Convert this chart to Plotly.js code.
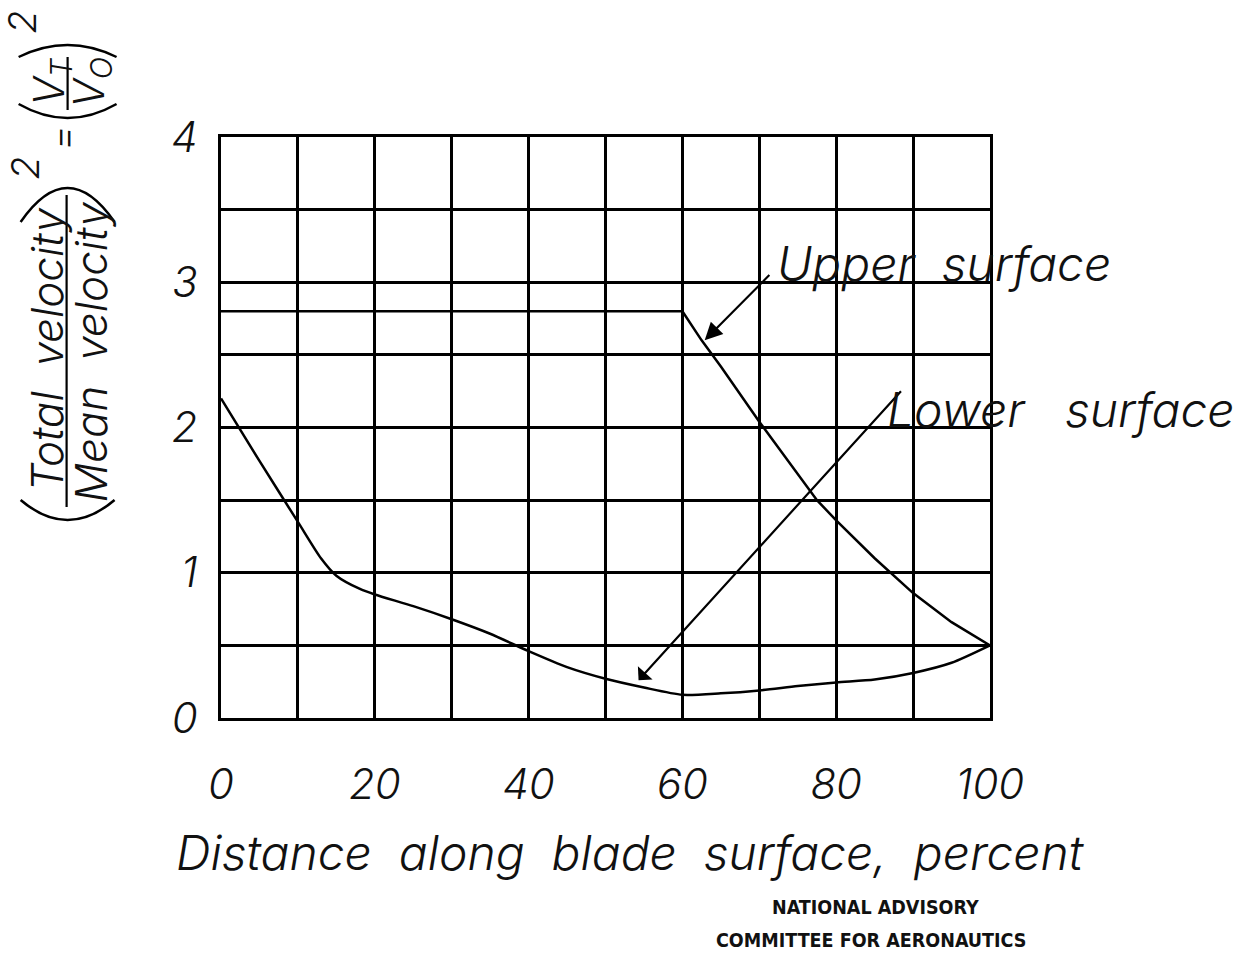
<!DOCTYPE html>
<html>
<head>
<meta charset="utf-8">
<script src="https://cdn.plot.ly/plotly-3.0.1.min.js"></script>
<style>html,body{margin:0;padding:0;background:#fff;}#chart{width:1243px;height:953px;}</style>
</head>
<body>
<div id="chart"></div>
<script>
// ---- data ----
const upperX = [0, 60, 62.5, 65, 70, 75, 77.5, 80, 85, 90, 95, 100];
const upperY = [2.8, 2.8, 2.6, 2.42, 2.04, 1.68, 1.5, 1.36, 1.1, 0.86, 0.66, 0.5];
const lowerX = [0, 5, 10, 13, 15, 18, 20, 25, 30, 35, 40, 45, 50, 55, 60, 65, 70, 75, 80, 85, 90, 95, 100];
const lowerY = [2.2, 1.77, 1.35, 1.1, 0.98, 0.89, 0.85, 0.77, 0.68, 0.58, 0.46, 0.35, 0.27, 0.21, 0.16, 0.17, 0.19, 0.22, 0.245, 0.265, 0.31, 0.38, 0.5];
const xTickVals = [0, 10, 20, 30, 40, 50, 60, 70, 80, 90, 100];
const xTickText = ["0", "", "20", "", "40", "", "60", "", "80", "", "100"];
const yTickVals = [0, 0.5, 1, 1.5, 2, 2.5, 3, 3.5, 4];
const yTickText = ["0", "", "1", "", "2", "", "3", "", "4"];
const upperLabel = "Upper  surface";
const lowerLabel = "Lower   surface";
const xTitle = "Distance  along  blade  surface,  percent";
const numerText = "Total  velocity";
const denomText = "Mean  velocity";
const naca1 = "NATIONAL ADVISORY";
const naca2 = "COMMITTEE FOR AERONAUTICS";

// ---- geometry helpers (pixel -> paper) ----
const L = 220.5, R = 990, T = 137, B = 718;
const P = px => (px - L) / (R - L);
const Q = py => (B - py) / (B - T);

const hand = {family: "Inter, DejaVu Sans, sans-serif", color: "#111", style: "italic", weight: 300};
const f = (size, extra) => Object.assign({}, hand, {size: size}, extra || {});

const traces = [
  {x: upperX, y: upperY, type: "scatter", mode: "lines", line: {color: "#000", width: 2.5}, hoverinfo: "skip", showlegend: false},
  {x: lowerX, y: lowerY, type: "scatter", mode: "lines", line: {color: "#000", width: 2.5, shape: "spline", smoothing: 0.7}, hoverinfo: "skip", showlegend: false}
];

function rot(text, xpx, ypx, size) {
  return {text: text, xref: "paper", yref: "paper", x: P(xpx), y: Q(ypx), xanchor: "center", yanchor: "middle",
          textangle: -90, showarrow: false, font: f(size)};
}
// paren arc (rotated bracket) as a path in paper coordinates: ends at yEnd, apex at yApex
function arc(x0, x1, yEnd, yApex) {
  const yc = 2 * yApex - yEnd;
  const xm = (x0 + x1) / 2;
  return {type: "path", xref: "paper", yref: "paper",
          path: `M ${P(x0)},${Q(yEnd)} Q ${P(xm)},${Q(yc)} ${P(x1)},${Q(yEnd)}`,
          line: {color: "#000", width: 2.5}};
}

const annotations = [
  // arrows
  {x: 62.9, y: 2.6, ax: 71.5, ay: 3.06, xref: "x", yref: "y", axref: "x", ayref: "y", text: "", showarrow: true,
   arrowhead: 2, arrowsize: 1.6, arrowwidth: 2.2, arrowcolor: "#000"},
  {x: 54.3, y: 0.26, ax: 88.6, ay: 2.26, xref: "x", yref: "y", axref: "x", ayref: "y", text: "", showarrow: true,
   arrowhead: 1, arrowsize: 1.5, arrowwidth: 2.2, arrowcolor: "#000"},
  // labels
  {text: upperLabel, x: 72.1, y: 3.0, xref: "x", yref: "y", xanchor: "left", yanchor: "bottom", yshift: -13, showarrow: false, font: f(48)},
  {text: lowerLabel, x: 86.4, y: 2.0, xref: "x", yref: "y", xanchor: "left", yanchor: "bottom", yshift: -13, showarrow: false, font: f(48)},
  // x title
  {text: xTitle, xref: "paper", yref: "paper", x: P(630), y: Q(852), xanchor: "center", yanchor: "middle", showarrow: false, font: f(48)},
  // NACA
  {text: "<b>" + naca1 + "</b>", xref: "paper", yref: "paper", x: P(875), y: Q(907), xanchor: "center", yanchor: "middle", showarrow: false,
   font: {family: "DejaVu Sans Condensed, Liberation Sans Narrow, DejaVu Sans, sans-serif", size: 19.5, color: "#111"}},
  {text: "<b>" + naca2 + "</b>", xref: "paper", yref: "paper", x: P(871), y: Q(940), xanchor: "center", yanchor: "middle", showarrow: false,
   font: {family: "DejaVu Sans Condensed, Liberation Sans Narrow, DejaVu Sans, sans-serif", size: 19.5, color: "#111"}},
  // y title pieces (rotated)
  rot(numerText, 46, 350, 44),
  rot(denomText, 90, 352, 44),
  rot("2", 24, 168, 38),
  rot("=", 61, 138, 38),
  rot("V<sub>T</sub>", 50, 82, 42),
  rot("V<sub>O</sub>", 90, 82, 42),
  rot("2", 21, 22, 38)
];

const shapes = [
  {type: "line", xref: "paper", yref: "paper", x0: P(66), x1: P(66), y0: Q(507), y1: Q(195), line: {color: "#000", width: 2.2}},
  {type: "line", xref: "paper", yref: "paper", x0: P(67), x1: P(67), y0: Q(110), y1: Q(57), line: {color: "#000", width: 2.2}},
  arc(20, 114, 500, 520),
  arc(20, 114, 222, 188),
  arc(18, 116, 104, 118),
  arc(18, 116, 57, 45)
];

const layout = {
  width: 1243, height: 953,
  margin: {l: 220.5, r: 253, t: 137, b: 235, pad: 0},
  paper_bgcolor: "#fff", plot_bgcolor: "#fff",
  showlegend: false,
  xaxis: {range: [0, 100], tickvals: xTickVals, ticktext: xTickText, showgrid: true, gridcolor: "#000", gridwidth: 3,
          zeroline: false, showline: true, mirror: true, linecolor: "#000", linewidth: 3,
          ticks: "outside", ticklen: 28, tickcolor: "rgba(0,0,0,0)", tickfont: f(42), fixedrange: true},
  yaxis: {range: [0, 4], tickvals: yTickVals, ticktext: yTickText, showgrid: true, gridcolor: "#000", gridwidth: 3,
          zeroline: false, showline: true, mirror: true, linecolor: "#000", linewidth: 3,
          ticks: "outside", ticklen: 12, tickcolor: "rgba(0,0,0,0)", tickfont: f(42), fixedrange: true},
  annotations: annotations,
  shapes: shapes
};

Plotly.newPlot("chart", traces, layout, {staticPlot: true, displayModeBar: false});
</script>
</body>
</html>
